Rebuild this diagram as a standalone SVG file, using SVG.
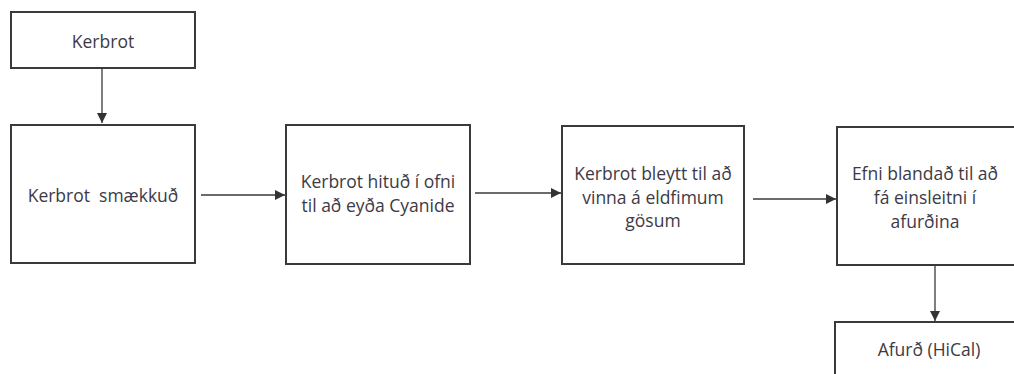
<svg xmlns="http://www.w3.org/2000/svg" width="1014" height="374" viewBox="0 0 1014 374">
<style>
.box{fill:#fff;stroke:#3a3a3a;stroke-width:2}
.t{font-family:"Open Sans","Liberation Sans",sans-serif;font-size:17.5px;fill:#3d3a45;text-anchor:middle}
.c{stroke:#3a3a3a;stroke-width:1.3;fill:none}
</style>
<defs>
<marker id="a" viewBox="0 0 10 10" refX="10" refY="5" markerWidth="10" markerHeight="10" markerUnits="userSpaceOnUse" orient="auto">
<path d="M0,0 L10,5 L0,10 z" fill="#333"/>
</marker>
</defs>
<rect width="1014" height="374" fill="#fff"/>
<g id="n1"><rect class="box" x="11" y="12" width="184" height="56"/><text class="t" x="103" y="48">Kerbrot</text></g>
<g id="n2"><rect class="box" x="11" y="125" width="184" height="138"/><text class="t" x="103" y="202">Kerbrot&#160; smækkuð</text></g>
<g id="n3"><rect class="box" x="286" y="125" width="184" height="139"/><text class="t" x="378" y="188">Kerbrot hituð í ofni</text><text class="t" x="378" y="212">til að eyða Cyanide</text></g>
<g id="n4"><rect class="box" x="562" y="126" width="182" height="138"/><text class="t" x="653" y="180">Kerbrot bleytt til að</text><text class="t" x="653" y="204">vinna á eldfimum</text><text class="t" x="653" y="227">gösum</text></g>
<g id="n5"><rect class="box" x="837" y="127" width="180" height="138"/><text class="t" x="925" y="180">Efni blandað til að</text><text class="t" x="925" y="204">fá einsleitni í</text><text class="t" x="925" y="228">afurðina</text></g>
<g id="n6"><rect class="box" x="835" y="322" width="182" height="60"/><text class="t" x="929" y="356">Afurð (HiCal)</text></g>
<g id="connectors">
<line class="c" x1="102" y1="68" x2="102" y2="123" marker-end="url(#a)"/>
<line class="c" x1="201" y1="195" x2="285" y2="195" marker-end="url(#a)"/>
<line class="c" x1="475" y1="193" x2="561" y2="193" marker-end="url(#a)"/>
<line class="c" x1="753" y1="199" x2="836" y2="199" marker-end="url(#a)"/>
<line class="c" x1="935" y1="265" x2="935" y2="321" marker-end="url(#a)"/>
</g>
</svg>
